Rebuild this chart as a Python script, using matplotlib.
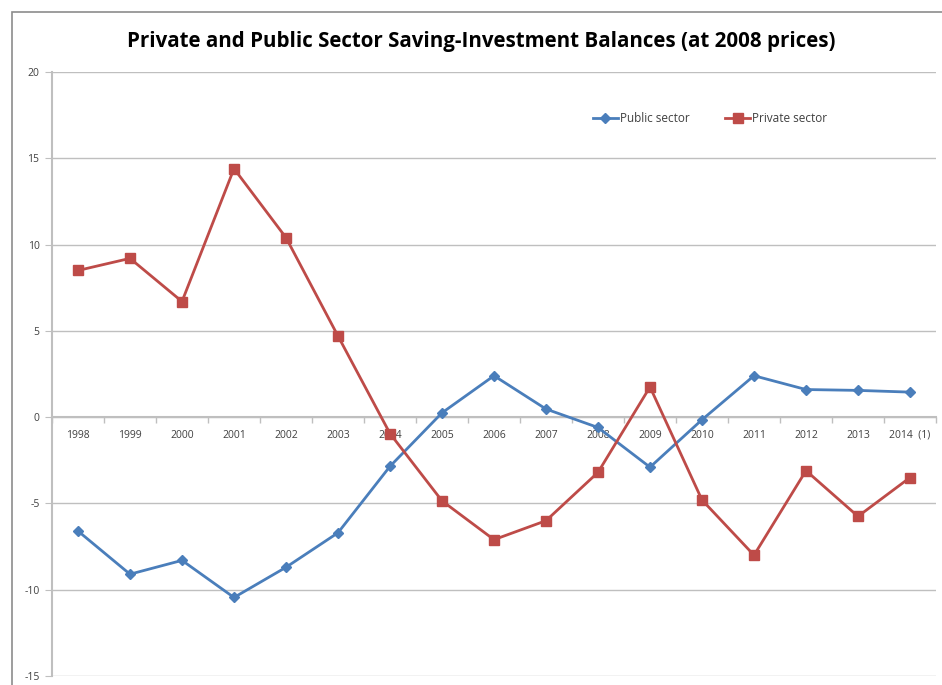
import matplotlib.pyplot as plt
from matplotlib.patches import Rectangle
import numpy as np

plt.rcParams['font.family'] = ['Open Sans', 'DejaVu Sans']
plt.rcParams['axes.unicode_minus'] = False

years = ["1998", "1999", "2000", "2001", "2002", "2003", "2004", "2005", "2006",
         "2007", "2008", "2009", "2010", "2011", "2012", "2013", "2014  (1)"]
public_sector = [-6.6, -9.1, -8.3, -10.45, -8.7, -6.7, -2.85, 0.25, 2.4,
                 0.47, -0.6, -2.9, -0.15, 2.4, 1.6, 1.55, 1.45]
private_sector = [8.5, 9.2, 6.7, 14.4, 10.4, 4.7, -0.95, -4.85, -7.1,
                  -6.0, -3.2, 1.75, -4.8, -8.0, -3.1, -5.75, -3.5]

BLUE = '#4A7EBB'
RED = '#BE4B48'
GRID = '#BFBFBF'
TXT = '#404040'

fig = plt.figure(figsize=(9.42, 6.85), dpi=100)
W, H = 942, 685

# yttre ram runt diagrammet
fig.patches.append(Rectangle((12 / W, -0.1), 1.2, (H - 12) / H + 0.1,
                             transform=fig.transFigure, fill=False,
                             edgecolor='#8C8C8C', linewidth=1.2))

ax = fig.add_axes([52 / W, (H - 676) / H, (936 - 52) / W, (676 - 72) / H])
x = np.arange(len(years))

ax.plot(x, public_sector, color=BLUE, lw=2, marker='D', ms=5.5,
        label='Public sector', zorder=3)
ax.plot(x, private_sector, color=RED, lw=2, marker='s', ms=7,
        label='Private sector', zorder=3)

ax.set_xlim(-0.5, len(years) - 0.5)
ax.set_ylim(-15, 20)
ax.set_yticks(np.arange(-15, 21, 5))
ax.yaxis.grid(True, color=GRID, lw=1)
ax.set_axisbelow(True)

for s in ['top', 'right']:
    ax.spines[s].set_visible(False)
ax.spines['left'].set_color(GRID)
ax.spines['left'].set_linewidth(1.5)
ax.spines['bottom'].set_position(('data', 0))
ax.spines['bottom'].set_color(GRID)
ax.spines['bottom'].set_linewidth(1.5)

# streck vid kategorigränserna, etiketter i mitten
ax.set_xticks(np.arange(-0.5, len(years), 1))
ax.set_xticklabels([])
ax.tick_params(axis='x', which='major', direction='out', length=4,
               color=GRID, width=1)
ax.set_xticks(x, minor=True)
ax.set_xticklabels(years, minor=True)
ax.tick_params(axis='x', which='minor', length=0, pad=9, labelsize=7.5,
               labelcolor=TXT)
ax.tick_params(axis='y', direction='out', length=5, color=GRID,
               labelsize=7.5, labelcolor=TXT, pad=4)

ax.legend(loc='center left', bbox_to_anchor=(0.6, 1 - 47 / 604), ncol=2,
          frameon=False, fontsize=8.5, handlelength=2.1, columnspacing=3.0,
          labelcolor=TXT, handletextpad=0.2)

fig.text(481 / W, 1 - 41 / H,
         'Private and Public Sector Saving-Investment Balances (at 2008 prices)',
         ha='center', va='center', fontsize=14.8, fontweight='bold', color='#000000')

fig.savefig('out.png', dpi=100)
